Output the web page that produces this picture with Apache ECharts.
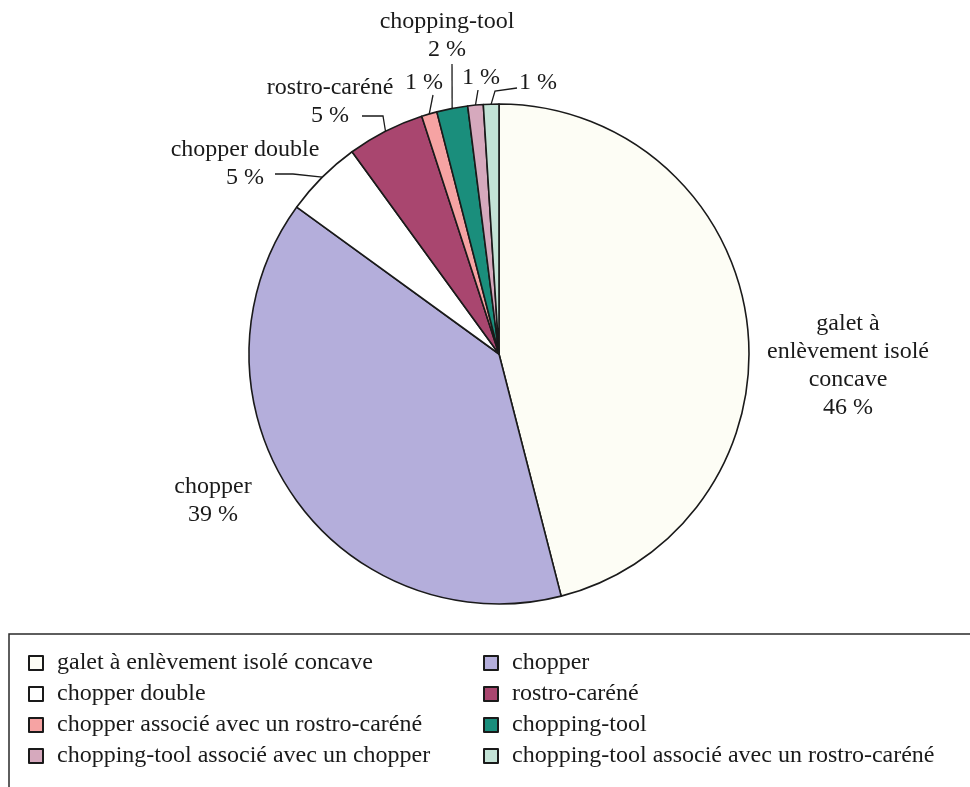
<!DOCTYPE html>
<html>
<head>
<meta charset="utf-8">
<script src="https://cdn.jsdelivr.net/npm/echarts@6/dist/echarts.min.js"></script>
<style>
  html, body { margin: 0; padding: 0; background: #fff; }
  #chart { width: 970px; height: 787px; }
</style>
</head>
<body>
<div id="chart"></div>
<script>
// Tool types and their share (%)
const categories = [
  'galet à enlèvement isolé concave',
  'chopper',
  'chopper double',
  'rostro-caréné',
  'chopper associé avec un rostro-caréné',
  'chopping-tool',
  'chopping-tool associé avec un chopper',
  'chopping-tool associé avec un rostro-caréné'
];
const shares = [46, 39, 5, 5, 1, 2, 1, 1];

// Short names printed next to the slices (empty = value only)
const sliceLabels = [
  'galet à\nenlèvement isolé\nconcave',
  'chopper',
  'chopper double',
  'rostro-caréné',
  '',
  'chopping-tool',
  '',
  ''
];

const colors = ['#fdfdf5', '#b4aedb', '#ffffff', '#a9466f', '#f6a3a3', '#1a8e7c', '#d6a9bd', '#c3e3d6'];

// Pie geometry
const CX = 499, CY = 354, R = 250;

// Label placement: text centre, optional elbow, end of the guide line
const labelSpots = [
  { x: 848, y: 366 },
  { x: 213, y: 501 },
  { x: 245, y: 164, elbow: [293, 174], end: [275, 174] },
  { x: 330, y: 102, elbow: [383, 116], end: [362, 116] },
  { x: 424, y: 83, end: [433, 95] },
  { x: 447, y: 36, end: [452, 64] },
  { x: 481, y: 78, end: [478, 90] },
  { x: 538, y: 83, elbow: [495, 91], end: [517, 88] }
];

// Mid-angle point on the rim of each slice (clockwise from 12 o'clock)
const total = shares.reduce((a, b) => a + b, 0);
const rimPoints = [];
let acc = 0;
shares.forEach(v => {
  const mid = (acc + v / 2) / total * 2 * Math.PI;
  rimPoints.push([CX + R * Math.sin(mid), CY - R * Math.cos(mid)]);
  acc += v;
});

const serif = '"Liberation Serif", "DejaVu Serif", serif';
const FONT = 24;

const legendBase = {
  orient: 'vertical',
  top: 651,
  padding: 0,
  itemWidth: 14, itemHeight: 14, itemGap: 7,
  icon: 'rect',
  textStyle: { fontFamily: serif, fontSize: FONT, lineHeight: 22, color: '#1a1a1a', padding: [0, 0, 0, 9] }
};

const chart = echarts.init(document.getElementById('chart'), null, { renderer: 'canvas' });

chart.setOption({
  animation: false,
  backgroundColor: '#ffffff',
  graphic: [{
    type: 'rect',
    shape: { x: 9, y: 634, width: 990, height: 200 },
    style: { fill: 'none', stroke: '#2a2a2a', lineWidth: 1.5 },
    z: -1
  }],
  legend: [
    Object.assign({}, legendBase, {
      left: 28,
      data: [categories[0], categories[2], categories[4], categories[6]]
    }),
    Object.assign({}, legendBase, {
      left: 483,
      data: [categories[1], categories[3], categories[5], categories[7]]
    })
  ],
  series: [{
    type: 'pie',
    center: [CX, CY],
    radius: [0, R],
    startAngle: 90,
    clockwise: true,
    data: categories.map((name, i) => ({
      name: name,
      value: shares[i],
      itemStyle: { color: colors[i] },
      labelLine: { show: !!labelSpots[i].end }
    })),
    itemStyle: { borderColor: '#1a1a1a', borderWidth: 1.6 },
    emphasis: { disabled: true },
    label: {
      show: true,
      position: 'outside',
      fontFamily: serif,
      fontSize: FONT,
      lineHeight: 28,
      color: '#1a1a1a',
      align: 'center',
      formatter: p => (sliceLabels[p.dataIndex] ? sliceLabels[p.dataIndex] + '\n' : '') + p.value + ' %'
    },
    labelLine: {
      lineStyle: { color: '#1a1a1a', width: 1.3 }
    },
    labelLayout: params => {
      const i = params.dataIndex;
      const s = labelSpots[i];
      const out = { x: s.x, y: s.y, align: 'center', verticalAlign: 'middle' };
      if (s.end) {
        const pts = [rimPoints[i]];
        if (s.elbow) pts.push(s.elbow);
        pts.push(s.end);
        out.labelLinePoints = pts;
      }
      return out;
    }
  }]
});
</script>
</body>
</html>
